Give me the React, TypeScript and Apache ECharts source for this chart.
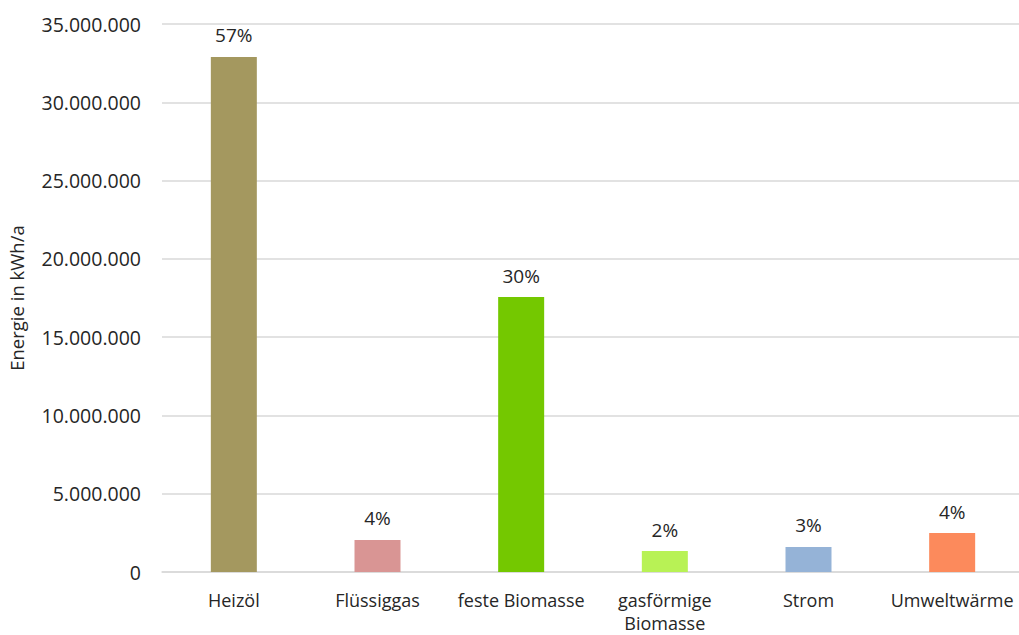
import React, { useEffect, useRef } from "react";
import * as echarts from "echarts";

const categories = ["Heizöl", "Flüssiggas", "feste Biomasse", "gasförmige\nBiomasse", "Strom", "Umweltwärme"];
const energyValues = [32900000, 2050000, 17560000, 1340000, 1600000, 2490000];
const shareLabels = ["57%", "4%", "30%", "2%", "3%", "4%"];
const barColors = ["#a4985f", "#d99594", "#74c800", "#b8f255", "#95b3d7", "#fc8a5c"];
const yAxisTitle = "Energie in kWh/a";

const FONT = "'Open Sans', Lato, sans-serif";
const TEXT = "#262626";

function formatDE(v: number): string {
  return String(Math.round(v)).replace(/\B(?=(\d{3})+(?!\d))/g, ".");
}

export default function App() {
  const ref = useRef<HTMLDivElement>(null);
  useEffect(() => {
    if (!ref.current) return;
    const chart = echarts.init(ref.current, undefined, { renderer: "svg" });
    chart.setOption({
      animation: false,
      backgroundColor: "#ffffff",
      grid: { left: 162, right: -5, top: 24, bottom: 63, containLabel: false, outerBoundsMode: "none" },
      xAxis: {
        type: "category",
        data: categories,
        axisLine: { lineStyle: { color: "#d9d9d9", width: 1.5 } },
        axisTick: { show: false },
        axisLabel: {
          color: TEXT,
          fontFamily: FONT,
          fontSize: 18,
          lineHeight: 23,
          margin: 16,
          interval: 0,
        },
      },
      yAxis: {
        type: "value",
        min: 0,
        max: 35000000,
        interval: 5000000,
        name: yAxisTitle,
        nameLocation: "middle",
        nameGap: 136,
        nameTextStyle: { color: TEXT, fontFamily: FONT, fontSize: 18.5 },
        axisLine: { show: false },
        axisTick: { show: false },
        splitLine: { lineStyle: { color: "#d9d9d9", width: 1.5 } },
        axisLabel: {
          color: TEXT,
          fontFamily: FONT,
          fontSize: 19.5,
          margin: 21,
          formatter: (v: number) => formatDE(v),
        },
      },
      series: [
        {
          type: "bar",
          barWidth: 46,
          data: energyValues.map((v, i) => ({ value: v, itemStyle: { color: barColors[i] } })),
          label: {
            show: true,
            position: "top",
            distance: 12,
            color: TEXT,
            fontFamily: FONT,
            fontSize: 19,
            formatter: (p: any) => shareLabels[p.dataIndex],
          },
        },
      ],
    });
    return () => chart.dispose();
  }, []);
  return (
    <div
      ref={ref}
      style={{ position: "absolute", left: 0, top: 0, width: 1019, height: 635 }}
    />
  );
}
